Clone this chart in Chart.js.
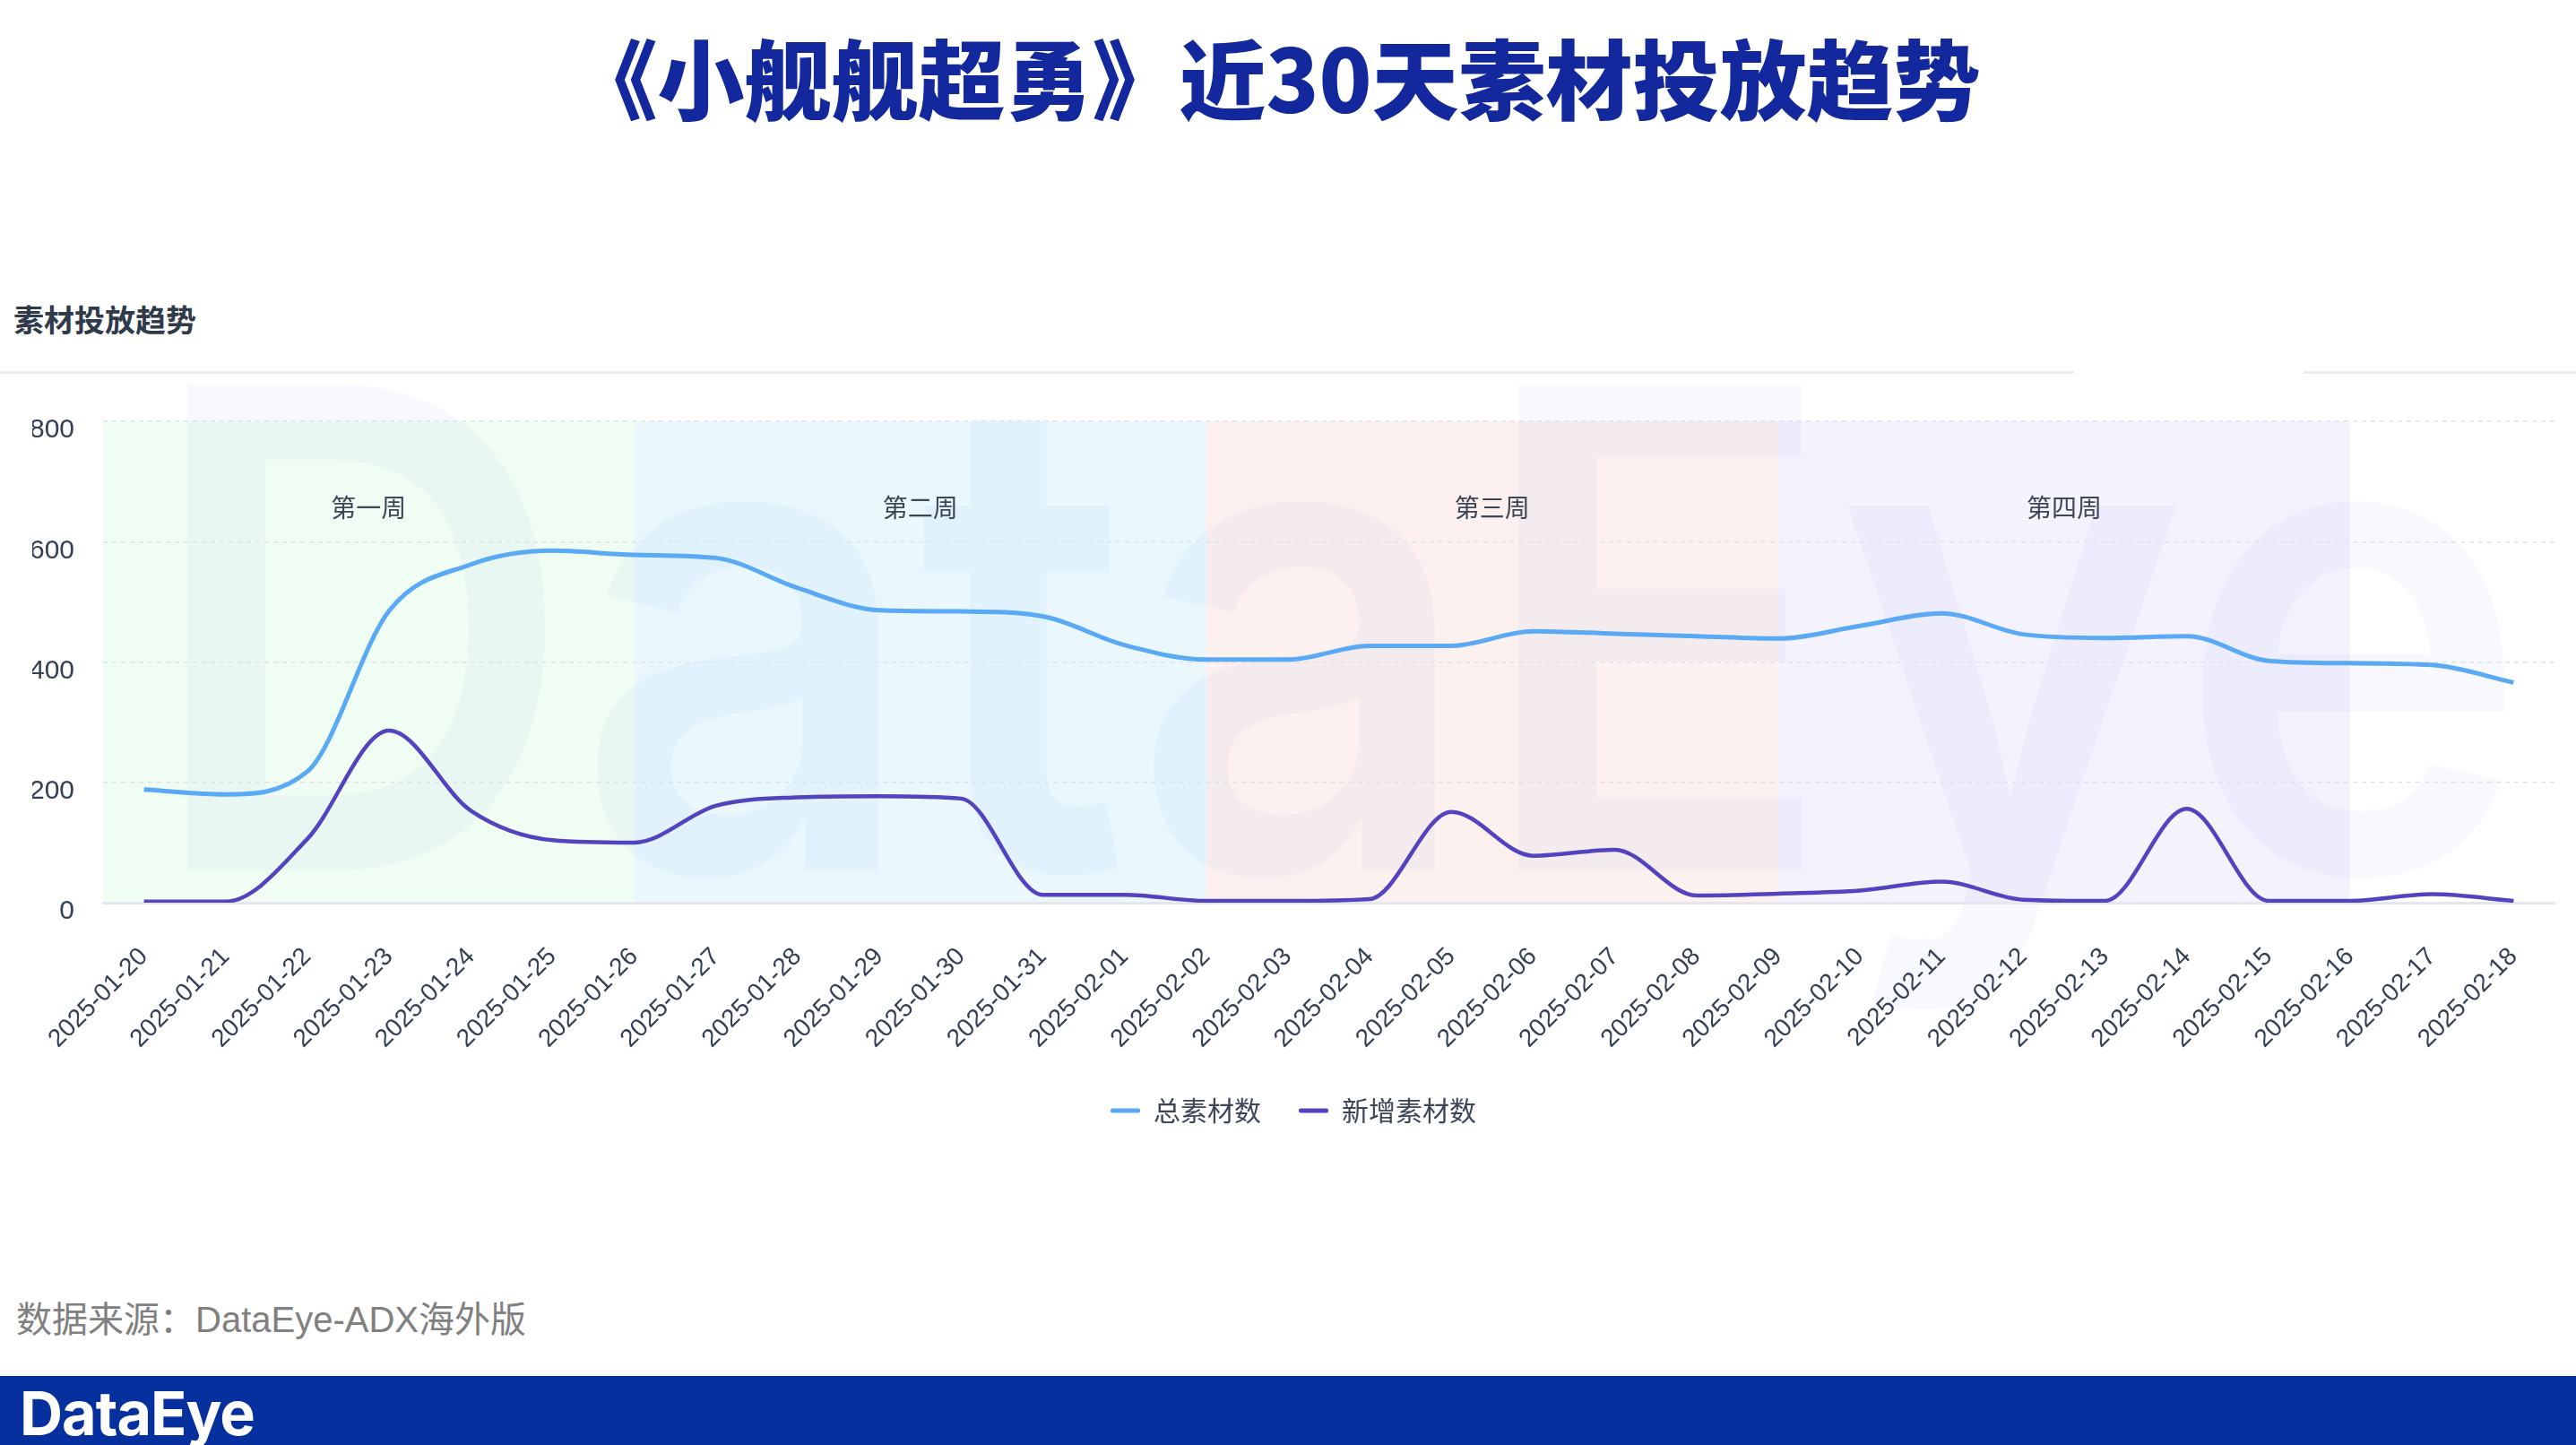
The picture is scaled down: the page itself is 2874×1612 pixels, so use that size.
<!DOCTYPE html>
<html>
<head>
<meta charset="utf-8">
<script src="https://cdn.jsdelivr.net/npm/chart.js@4.4.1/dist/chart.umd.min.js"></script>
<style>
html,body{margin:0;padding:0;background:#ffffff;}
body{width:2874px;height:1612px;position:relative;overflow:hidden;font-family:"Noto Sans CJK SC","Liberation Sans",sans-serif;}
#title{position:absolute;left:-14px;top:22px;width:2874px;text-align:center;font-size:97px;font-weight:900;color:#13289c;line-height:124px;white-space:nowrap;}
#subtitle{position:absolute;left:15px;top:331px;font-size:34px;font-weight:700;color:#2f3a4a;line-height:50px;white-space:nowrap;}
.divider{position:absolute;top:414px;height:3px;background:#e9edf3;}
#chartBox{position:absolute;left:0;top:420px;width:2874px;height:844px;}
#source{position:absolute;left:18px;top:1444px;font-size:40px;line-height:56px;color:#808080;font-family:"Liberation Sans","Noto Sans CJK SC",sans-serif;white-space:nowrap;}
#footer{position:absolute;left:0;top:1535px;width:2874px;height:77px;background:#05309d;}
#logo{position:absolute;left:22px;top:7px;font-family:Inter,"Liberation Sans",sans-serif;font-weight:700;font-size:68px;line-height:68px;color:#ffffff;white-space:nowrap;transform-origin:0 0;letter-spacing:-1px;}
</style>
</head>
<body>
<div id="title">《小舰舰超勇》近30天素材投放趋势</div>
<div id="subtitle">素材投放趋势</div>
<div class="divider" style="left:0;width:2314px;"></div>
<div class="divider" style="left:2570px;width:304px;"></div>
<div id="chartBox"><canvas id="c"></canvas></div>
<div id="source">数据来源：DataEye-ADX海外版</div>
<div id="footer"><span id="logo">DataEye</span></div>
<script>
// ---- data ----
const dates = [
  '2025-01-20','2025-01-21','2025-01-22','2025-01-23','2025-01-24','2025-01-25','2025-01-26',
  '2025-01-27','2025-01-28','2025-01-29','2025-01-30','2025-01-31','2025-02-01','2025-02-02',
  '2025-02-03','2025-02-04','2025-02-05','2025-02-06','2025-02-07','2025-02-08','2025-02-09',
  '2025-02-10','2025-02-11','2025-02-12','2025-02-13','2025-02-14','2025-02-15','2025-02-16',
  '2025-02-17','2025-02-18'
];
const totalCount = [188,180,218,485,562,585,578,573,523,486,484,476,428,404,404,427,427,451,447,443,439,460,481,446,440,443,402,398,395,366];
const newCount   = [2,2,106,286,153,104,100,161,175,177,173,13,13,3,3,6,151,78,88,12,15,20,35,5,3,156,3,3,14,3];
const yTickValues = [0,200,400,600,800];
const weekLabels = ['第一周','第二周','第三周','第四周'];
const weekStart = [-0.5, 6, 13, 20];
const weekEnd   = [6, 13, 20, 27];
const seriesNames = ['总素材数','新增素材数'];

// ---- styles ----
const BAND_COLORS = ['#f0fdf3','#eaf8fd','#fcf1ef','#f4f2fd'];
const BLUE = '#5aa9f5';
const PURPLE = '#5343be';
const TEXT = '#344054';

const bandPlugin = {
  id: 'bands',
  beforeDraw(chart) {
    const {ctx, chartArea: a, scales: {x}} = chart;
    ctx.save();
    for (let i = 0; i < weekLabels.length; i++) {
      const x0 = x.getPixelForValue(weekStart[i]);
      const x1 = x.getPixelForValue(weekEnd[i]);
      ctx.fillStyle = BAND_COLORS[i];
      ctx.fillRect(x0, a.top, x1 - x0, a.bottom - a.top);
    }
    ctx.restore();
    // watermark
    ctx.save();
    ctx.font = '600 745px Inter, "Liberation Sans", sans-serif';
    const w = ctx.measureText('DataEye').width;
    const left = a.left + 46, right = a.right - 28;
    ctx.translate(left, a.bottom - 36);
    ctx.scale((right - left) / w, 1);
    ctx.fillStyle = 'rgba(40,110,220,0.04)';
    ctx.textBaseline = 'alphabetic';
    ctx.fillText('DataEye', 0, 0);
    ctx.restore();
    // week labels
    ctx.save();
    ctx.font = '28px "Noto Sans CJK SC", sans-serif';
    ctx.fillStyle = '#3c4656';
    ctx.textAlign = 'center';
    ctx.textBaseline = 'middle';
    for (let i = 0; i < weekLabels.length; i++) {
      const cx = (x.getPixelForValue(weekStart[i]) + x.getPixelForValue(weekEnd[i])) / 2;
      ctx.fillText(weekLabels[i], cx, a.top + 96);
    }
    ctx.restore();
  }
};

new Chart(document.getElementById('c'), {
  type: 'line',
  data: {
    labels: dates,
    datasets: [
      {label: seriesNames[0], data: totalCount, borderColor: BLUE, backgroundColor: BLUE, borderWidth: 5,
       pointRadius: 0, cubicInterpolationMode: 'monotone', fill: false},
      {label: seriesNames[1], data: newCount, borderColor: PURPLE, backgroundColor: PURPLE, borderWidth: 4.5,
       pointRadius: 0, cubicInterpolationMode: 'monotone', fill: false}
    ]
  },
  options: {
    responsive: true,
    maintainAspectRatio: false,
    animation: false,
    devicePixelRatio: 1,
    layout: {padding: {top: 50, right: 24, left: 36, bottom: 0}},
    plugins: {
      tooltip: {enabled: false},
      legend: {
        position: 'bottom',
        labels: {
          boxWidth: 33, boxHeight: 5, padding: 42, color: '#3c4656',
          font: {family: '"Noto Sans CJK SC", sans-serif', size: 30},
          generateLabels(chart) {
            return chart.data.datasets.map((d, i) => ({
              text: d.label, fillStyle: d.borderColor, strokeStyle: d.borderColor,
              lineWidth: 0, borderRadius: 2, datasetIndex: i, hidden: false, fontColor: '#3c4656'
            }));
          }
        }
      }
    },
    scales: {
      x: {
        offset: true,
        grid: {display: false, drawTicks: false},
        border: {display: true, color: '#e4e8ee', width: 3},
        ticks: {autoSkip: false, maxRotation: 45, minRotation: 45, padding: 44, color: TEXT,
                font: {family: '"Liberation Sans", Arial, sans-serif', size: 28}},
        afterFit(s) { s.height = 175; }
      },
      y: {
        min: 0, max: 800,
        afterBuildTicks(s) { s.ticks = yTickValues.map(v => ({value: v})); },
        grid: {color: c => (c.tick && c.tick.value === 0) ? 'rgba(0,0,0,0)' : '#dde3ea', lineWidth: 1.5, drawTicks: false},
        border: {display: false, dash: [5, 5]},
        ticks: {padding: 32, labelOffset: 10, color: TEXT,
                font: {family: '"Liberation Sans", Arial, sans-serif', size: 30}},
        afterFit(s) { s.width = 79; }
      }
    }
  },
  plugins: [bandPlugin]
});

// footer logo width fit
const logo = document.getElementById('logo');
const lw = logo.getBoundingClientRect().width;
logo.style.transform = 'scaleX(' + (262 / lw) + ')';
</script>
</body>
</html>
